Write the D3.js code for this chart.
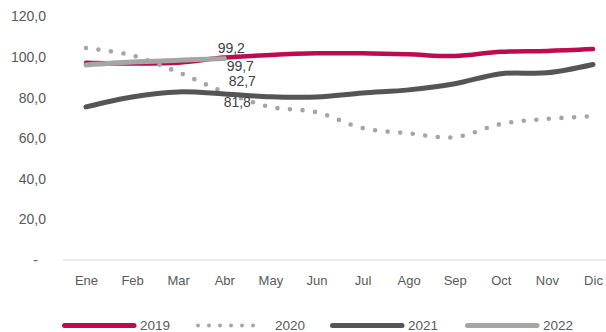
<!DOCTYPE html>
<html>
<head>
<meta charset="utf-8">
<script src="https://cdn.jsdelivr.net/npm/d3@7/dist/d3.min.js"></script>
<style>
  html, body { margin: 0; padding: 0; background: #fff; }
  svg { display: block; font-family: "Liberation Sans", Arial, sans-serif; }
</style>
</head>
<body>
<svg id="chart" width="606" height="332"></svg>
<script>
// ---- data ----
const months = ["Ene","Feb","Mar","Abr","May","Jun","Jul","Ago","Sep","Oct","Nov","Dic"];
const yTicks = [0, 20, 40, 60, 80, 100, 120];
const seriesNames = ["2019", "2020", "2021", "2022"];
const v2019 = [97.2, 96.8, 97.2, 99.7, 101.0, 101.8, 101.8, 101.3, 100.5, 102.6, 103.0, 103.9];
const v2020 = [104.4, 100.8, 92.5, 82.7, 75.4, 72.8, 65.0, 62.4, 60.5, 67.0, 69.5, 70.8];
const v2021 = [75.4, 80.3, 82.8, 81.8, 80.4, 80.3, 82.3, 83.8, 86.8, 91.8, 92.2, 96.3];
const v2022 = [96.1, 97.5, 98.4, 99.2];
const labelMonth = "Abr";

// ---- styles ----
const styles = {
  "2019": { color: "#BE0A4E", width: 4.5, dash: null },
  "2020": { color: "#A5A5A5", width: 4.6, dash: "0 12.6" },
  "2021": { color: "#555555", width: 5, dash: null },
  "2022": { color: "#A5A5A5", width: 5, dash: null }
};
const labelOffsets = {
  "2019": [16, 8],
  "2020": [18, -11],
  "2021": [13, 8],
  "2022": [7, -11]
};
const values = { "2019": v2019, "2020": v2020, "2021": v2021, "2022": v2022 };

const svg = d3.select("#chart");
const x = d3.scalePoint().domain(months).range([86, 593]);
const y = d3.scaleLinear().domain([0, 120]).range([260, 16.4]);
const fmt = v => v === 0 ? "-" : d3.format(".1f")(v).replace(".", ",");

// y axis labels
const yAxis = svg.append("g").attr("transform", "translate(52,0)")
  .call(d3.axisLeft(y).tickValues(yTicks).tickSize(0).tickPadding(6).tickFormat(fmt));
yAxis.select(".domain").remove();
yAxis.selectAll("text").attr("fill", "#595959").style("font-size", "14px")
  .attr("font-family", "Liberation Sans, Arial, sans-serif");
yAxis.selectAll(".tick").filter(d => d === 0).select("text").attr("x", -14);

// x axis baseline
svg.append("line").attr("x1", 63).attr("x2", 606).attr("y1", y(0)).attr("y2", y(0))
  .attr("stroke", "#D9D9D9").attr("stroke-width", 1);

const xAxis = svg.append("g").attr("transform", `translate(0,${y(0)})`)
  .call(d3.axisBottom(x).tickSize(0).tickPadding(16));
xAxis.select(".domain").remove();
xAxis.selectAll("text").attr("fill", "#595959").style("font-size", "13px")
  .attr("font-family", "Liberation Sans, Arial, sans-serif");

// lines
const line = d3.line().x((d, i) => x(months[i])).y(d => y(d)).curve(d3.curveCatmullRom.alpha(0.5));
seriesNames.forEach(name => {
  const st = styles[name];
  const p = svg.append("path").datum(values[name])
    .attr("d", line).attr("fill", "none")
    .attr("stroke", st.color).attr("stroke-width", st.width)
    .attr("stroke-linecap", "round").attr("stroke-linejoin", "round");
  if (st.dash) p.attr("stroke-dasharray", st.dash);
});

// data labels
const li = months.indexOf(labelMonth);
seriesNames.forEach(name => {
  const v = values[name][li];
  const off = labelOffsets[name];
  svg.append("text").attr("x", x(labelMonth) + off[0]).attr("y", y(v) + off[1])
    .attr("text-anchor", "middle").attr("dominant-baseline", "central")
    .attr("fill", "#404040").style("font-size", "14px").text(fmt(v));
});

// legend
const legendX = [63, 196, 331, 466];
const legend = svg.append("g");
seriesNames.forEach((name, i) => {
  const st = styles[name];
  const g = legend.append("g").attr("transform", `translate(${legendX[i]},325.5)`);
  const l = g.append("line").attr("x1", 1.5).attr("x2", 71).attr("y1", 0).attr("y2", 0)
    .attr("stroke", st.color).attr("stroke-width", st.dash ? 4 : 5).attr("stroke-linecap", "round");
  if (st.dash) l.attr("x1", 2).attr("x2", 68).attr("stroke-dasharray", "0 11");
  g.append("text").attr("x", i === 1 ? 79 : 77).attr("y", 4.5)
    .attr("fill", "#595959").style("font-size", "13.5px").text(name);
});
</script>
</body>
</html>
